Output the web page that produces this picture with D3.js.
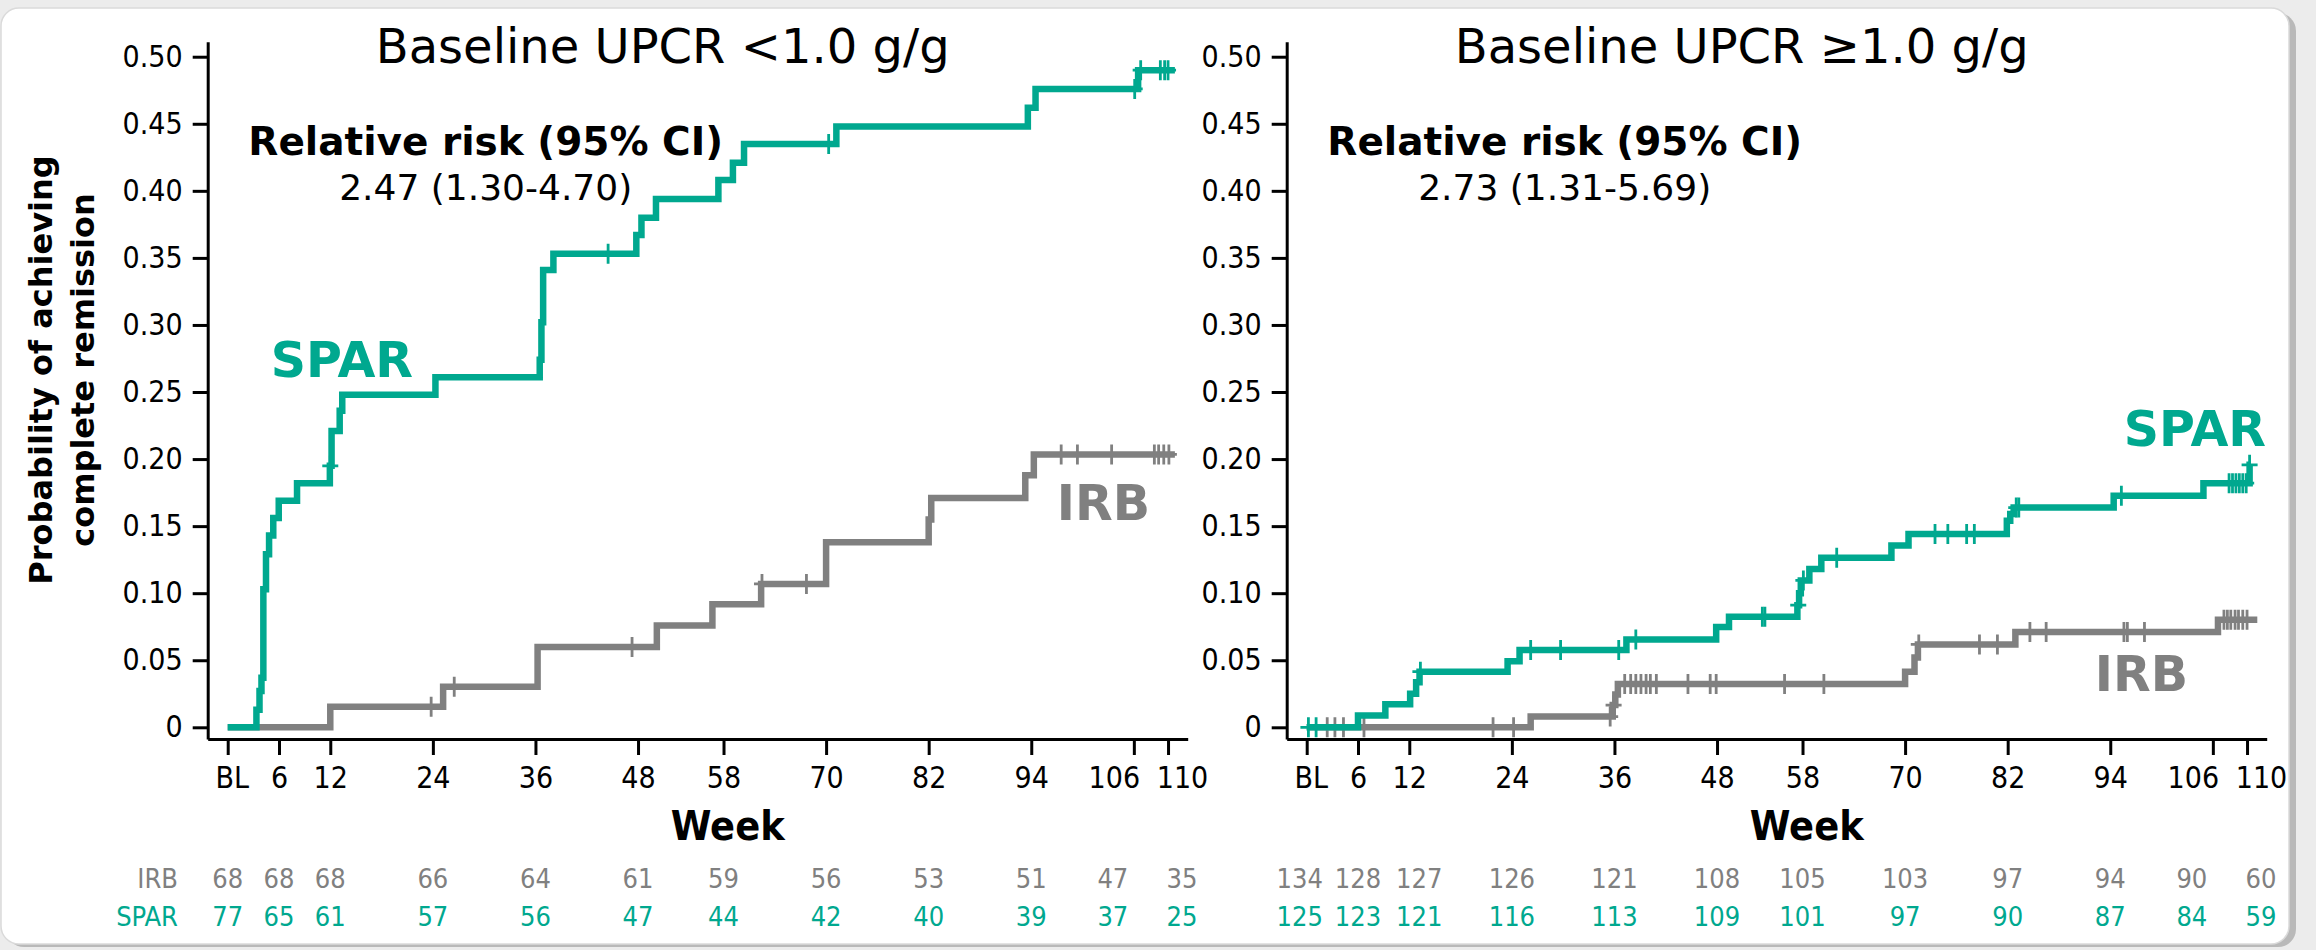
<!DOCTYPE html>
<html>
<head>
<meta charset="utf-8">
<script src="https://cdn.jsdelivr.net/npm/d3@7"></script>
<style>
  body { margin: 0; background: #ececec; }
  svg { display: block; }
  .cond { font-family: "DejaVu Sans Condensed", "DejaVu Sans", sans-serif; font-stretch: condensed; }
  .wide { font-family: "DejaVu Sans", Verdana, sans-serif; }
</style>
</head>
<body>
<svg id="chart" width="2316" height="950"></svg>
<script>
const TEAL = '#00a88f'
const GREY = '#808080'

const weekTicks = [0, 6, 12, 24, 36, 48, 58, 70, 82, 94, 106, 110]
const yTicks = [0, 0.05, 0.10, 0.15, 0.20, 0.25, 0.30, 0.35, 0.40, 0.45, 0.50]

// Baseline UPCR < 1.0 g/g : [week, cumulative probability]
const lowSparSteps = [[0, 0], [3.36, 0.013], [3.72, 0.027], [3.95, 0.037], [4.17, 0.103], [4.48, 0.129],
  [4.84, 0.143], [5.33, 0.156], [5.97, 0.169], [8.11, 0.182], [11.95, 0.195], [12.15, 0.221],
  [13.1, 0.236], [13.4, 0.248], [24.3, 0.261], [36.5, 0.274], [36.7, 0.302], [36.9, 0.341],
  [38.1, 0.353], [47.8, 0.367], [48.4, 0.380], [50.1, 0.394], [57.4, 0.408], [59.1, 0.421],
  [60.4, 0.435], [71.2, 0.448], [93.6, 0.462], [94.5, 0.476], [106.5, 0.490]]
const lowSparCensor = [12.0, 44.5, 70.3, 106.1, 106.8, 109.1, 109.6, 110.0]
const lowSparEnd = 110.8
const lowIrbSteps = [[0, 0], [12.0, 0.0153], [25.2, 0.0303], [36.25, 0.0598], [50.2, 0.076],
  [56.7, 0.0917], [62.4, 0.1069], [70.0, 0.138], [82.0, 0.155], [82.3, 0.171], [93.3, 0.188],
  [94.3, 0.2035]]
const lowIrbCensor = [23.8, 26.5, 47.3, 62.5, 67.7, 97.5, 99.4, 103.4, 108.4, 108.9, 109.5, 110.1]
const lowIrbEnd = 110.8
const lowIrbRisk = [68, 68, 68, 66, 64, 61, 59, 56, 53, 51, 47, 35]
const lowSparRisk = [77, 65, 61, 57, 56, 47, 44, 42, 40, 39, 37, 25]

// Baseline UPCR >= 1.0 g/g
const highSparSteps = [[0, 0], [6.0, 0.0088], [9.2, 0.0171], [12.1, 0.025], [12.8, 0.0336],
  [13.2, 0.0415], [23.5, 0.0493], [24.9, 0.0577], [37.4, 0.0655], [47.9, 0.0747], [49.4, 0.0825],
  [57.4, 0.0911], [57.6, 0.100], [57.8, 0.1095], [58.8, 0.118], [60.2, 0.1265], [68.4, 0.1355],
  [70.4, 0.1442], [81.9, 0.154], [82.3, 0.159], [82.7, 0.1638], [94.4, 0.1727], [104.9, 0.182],
  [110.3, 0.1957]]
const highSparCensor = [0.2, 1.1, 13.3, 26.2, 29.7, 36.5, 38.5, 53.3, 53.6, 57.5, 58.1, 62.0,
  73.5, 75.0, 77.2, 78.1, 83.0, 83.3, 95.3, 107.9, 108.3, 108.7, 109.1, 109.5, 109.9, 110.3]
const highSparEnd = 110.4
const highIrbSteps = [[0, 0], [26.2, 0.008], [35.8, 0.0166], [36.1, 0.0245], [36.4, 0.0323],
  [70.0, 0.0415], [71.1, 0.052], [71.5, 0.0618], [82.9, 0.071], [106.6, 0.0802]]
const highIrbCensor = [2.4, 3.3, 4.3, 6.7, 21.8, 24.2, 35.5, 35.9, 37.2, 37.9, 38.5, 39.1, 39.7,
  40.2, 40.9, 44.6, 47.2, 47.9, 55.9, 60.5, 71.6, 78.7, 80.8, 84.6, 86.5, 95.6, 96.0, 98.0,
  107.3, 107.7, 108.1, 108.6, 109.0, 109.5, 110.0]
const highIrbEnd = 111.2
const highIrbRisk = [134, 128, 127, 126, 121, 108, 105, 103, 97, 94, 90, 60]
const highSparRisk = [125, 123, 121, 116, 113, 109, 101, 97, 90, 87, 84, 59]

const titles = ['Baseline UPCR <1.0 g/g', 'Baseline UPCR \u22651.0 g/g']
const rrValues = ['2.47 (1.30-4.70)', '2.73 (1.31-5.69)']

const panels = [
  {
    left: 207.7, title: titles[0], rr: rrValues[0],
    spar: { steps: lowSparSteps, censor: lowSparCensor, end: lowSparEnd, risk: lowSparRisk },
    irb: { steps: lowIrbSteps, censor: lowIrbCensor, end: lowIrbEnd, risk: lowIrbRisk },
    sparLabel: [63, 377], irbLabel: [849, 520],
    riskNudge: { 106: -21, 110: 14 }, riskLabels: true
  },
  {
    left: 1286.7, title: titles[1], rr: rrValues[1],
    spar: { steps: highSparSteps, censor: highSparCensor, end: highSparEnd, risk: highSparRisk },
    irb: { steps: highIrbSteps, censor: highIrbCensor, end: highIrbEnd, risk: highIrbRisk },
    sparLabel: [837, 446], irbLabel: [808, 691],
    riskNudge: { 0: -7, 12: 10, 106: -21, 110: 14 }, riskLabels: false
  }
]

const svg = d3.select('#chart')

// card frame with a soft shadow on the right / bottom
svg.append('rect').attr('x', 6).attr('y', 13).attr('width', 2290).attr('height', 934)
  .attr('rx', 18).attr('fill', '#b9b9b9')
svg.append('rect').attr('x', 1).attr('y', 8).attr('width', 2288).attr('height', 936)
  .attr('rx', 18).attr('fill', '#fff').attr('stroke', '#dadada').attr('stroke-width', 1.5)

const x = d3.scaleLinear().domain([-2.34, 112.3]).range([0, 980])
const y = d3.scaleLinear().domain([-0.00872, 0.5112]).range([739, 41.7])

const levelAt = (steps, w) => {
  let p = 0
  steps.forEach(s => { if (s[0] <= w) p = s[1] })
  return p
}

const line = d3.line().x(d => x(d[0])).y(d => y(d[1])).curve(d3.curveStepAfter)
const tickNudge = { 0: 4, 106: -20, 110: 14 }

panels.forEach((P, pi) => {
  const g = svg.append('g').attr('transform', `translate(${P.left},0)`)

  // axes
  const yAxis = d3.axisLeft(y).tickValues(yTicks).tickSize(15).tickPadding(10).tickSizeOuter(0)
    .tickFormat(d => d === 0 ? '0' : d.toFixed(2))
  const xAxis = d3.axisBottom(x).tickValues(weekTicks).tickSize(16).tickPadding(12).tickSizeOuter(0)
    .tickFormat(d => d === 0 ? 'BL' : d)

  const ya = g.append('g').call(yAxis)
  const xa = g.append('g').attr('transform', `translate(0,${y.range()[0]})`).call(xAxis)
  ;[ya, xa].forEach(a => {
    a.attr('font-size', null).attr('font-family', null)
    a.selectAll('path, line').attr('stroke', '#000').attr('stroke-width', 3)
    a.selectAll('text').attr('class', 'cond').attr('font-size', 30).attr('fill', '#000')
  })
  xa.selectAll('text').attr('dx', d => tickNudge[d] || 0)

  // curves: IRB under SPAR
  ;[['irb', GREY], ['spar', TEAL]].forEach(([key, col]) => {
    const s = P[key]
    const pts = s.steps.concat([[s.end, s.steps[s.steps.length - 1][1]]])
    g.append('path').datum(pts).attr('d', line)
      .attr('fill', 'none').attr('stroke', col).attr('stroke-width', 6.5)
      .attr('stroke-linejoin', 'miter')
    g.selectAll(`.cens-${key}`).data(s.censor).enter().append('path')
      .attr('class', `cens-${key}`)
      .attr('transform', w => `translate(${x(w)},${y(levelAt(s.steps, w))})`)
      .attr('d', 'M0,-10V10M-8,0H8')
      .attr('stroke', col).attr('stroke-width', 2.8).attr('fill', 'none')
  })

  // titles and annotations
  g.append('text').attr('class', 'wide').attr('x', 455).attr('y', 63)
    .attr('text-anchor', 'middle').attr('font-size', 48).text(P.title)
  g.append('text').attr('class', 'wide').attr('x', 278).attr('y', 155)
    .attr('text-anchor', 'middle').attr('font-size', 39).attr('font-weight', 'bold')
    .text('Relative risk (95% CI)')
  g.append('text').attr('class', 'wide').attr('x', 278).attr('y', 200)
    .attr('text-anchor', 'middle').attr('font-size', 36).text(P.rr)

  g.append('text').attr('class', 'wide').attr('x', P.sparLabel[0]).attr('y', P.sparLabel[1])
    .attr('font-size', 49).attr('font-weight', 'bold').attr('fill', TEAL).text('SPAR')
  g.append('text').attr('class', 'wide').attr('x', P.irbLabel[0]).attr('y', P.irbLabel[1])
    .attr('font-size', 49).attr('font-weight', 'bold').attr('fill', GREY).text('IRB')

  g.append('text').attr('class', 'cond').attr('x', x(58.5)).attr('y', 840)
    .attr('text-anchor', 'middle').attr('font-size', 41).attr('font-weight', 'bold').text('Week')

  // numbers at risk
  ;[['irb', GREY, 888], ['spar', TEAL, 926]].forEach(([key, col, yy]) => {
    g.selectAll(`.risk-${key}`).data(P[key].risk).enter().append('text')
      .attr('class', `cond risk-${key}`)
      .attr('x', (d, i) => x(weekTicks[i]) + (P.riskNudge[weekTicks[i]] || 0))
      .attr('y', yy).attr('text-anchor', 'middle').attr('font-size', 27)
      .attr('fill', col).text(d => d)
    if (P.riskLabels) {
      g.append('text').attr('class', 'cond').attr('x', 178 - P.left).attr('y', yy)
        .attr('text-anchor', 'end').attr('font-size', 27).attr('fill', col)
        .text(key === 'irb' ? 'IRB' : 'SPAR')
    }
  })
})

// y axis title
const yt = svg.append('g').attr('class', 'wide').attr('font-size', 32).attr('font-weight', 'bold')
yt.append('text').attr('transform', 'translate(52,370) rotate(-90)').attr('text-anchor', 'middle')
  .text('Probability of achieving')
yt.append('text').attr('transform', 'translate(94,370) rotate(-90)').attr('text-anchor', 'middle')
  .text('complete remission')
</script>
</body>
</html>
